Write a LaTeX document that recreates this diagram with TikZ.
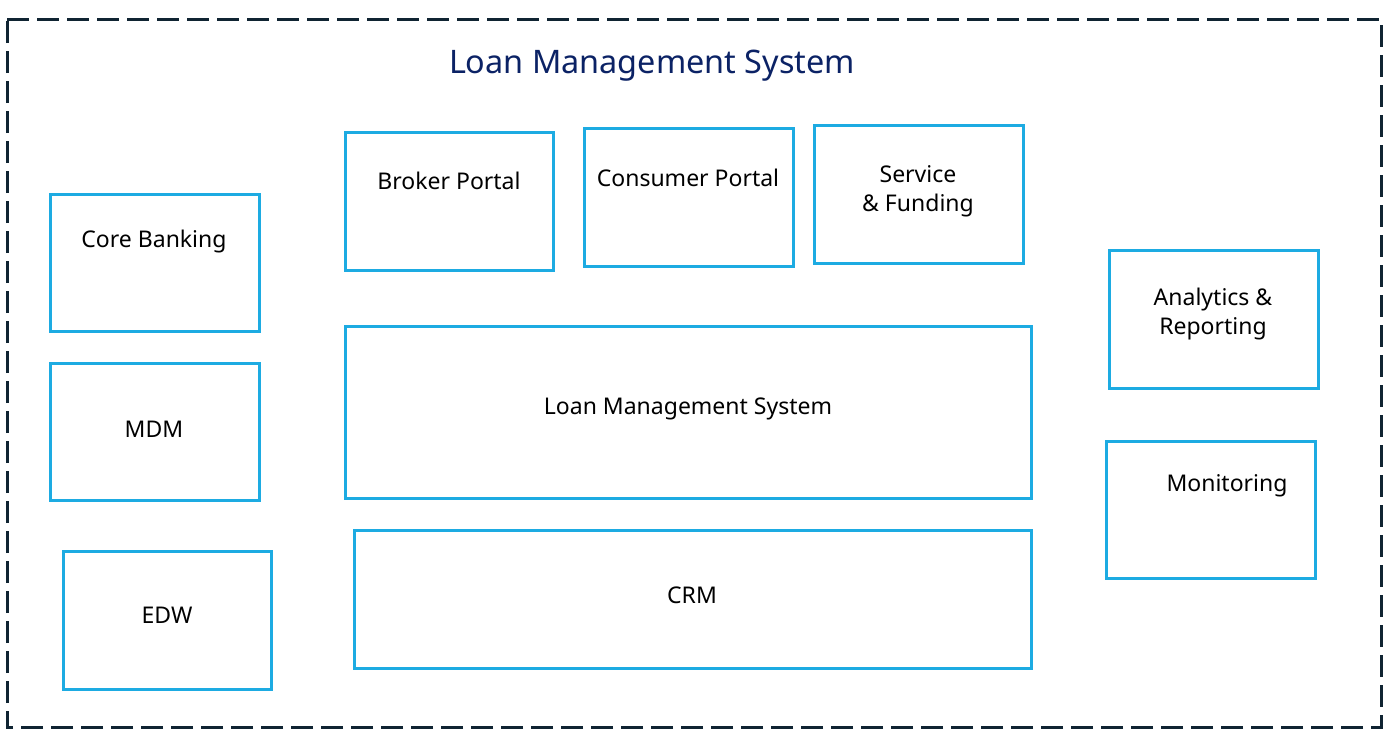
\documentclass[tikz,border=0pt]{standalone}
\usepackage{fontspec}
\setmainfont{Noto Sans}
\usetikzlibrary{positioning}

\definecolor{boxblue}{RGB}{29,171,226}
\definecolor{framenavy}{RGB}{16,36,50}
\definecolor{titlenavy}{RGB}{11,34,101}

\begin{document}
\begin{tikzpicture}[x=0.5pt,y=0.5pt,yscale=-1,xscale=1,
  sysbox/.style={draw=boxblue,line width=1.5pt},
  boxtext/.style={align=center,font=\fontsize{11.5}{14.5}\selectfont}]
\useasboundingbox (0,0) rectangle (1390,740);

%Shape: outer frame
\draw [framenavy,line width=1.5pt,dash pattern=on 11pt off 4pt] (7,19) -- (1381,19) -- (1381,727) -- (7,727) -- cycle ;

% Title
\node [text=titlenavy,font=\fontsize{16.2}{20}\selectfont] (title) at (652,66) {Loan Management System};

%Shape: left column
\draw [sysbox] (50,194) rectangle (259,331) ;
\draw [sysbox] (50,363) rectangle (259,500) ;
\draw [sysbox] (63,551) rectangle (271,689) ;

%Shape: portals
\draw [sysbox] (345,132) rectangle (553,270) ;
\draw [sysbox] (584,128) rectangle (793,266) ;
\draw [sysbox] (814,125) rectangle (1023,263) ;

%Shape: core systems
\draw [sysbox] (345,326) rectangle (1031,498) ;
\draw [sysbox] (354,530) rectangle (1031,668) ;

%Shape: right column
\draw [sysbox] (1109,250) rectangle (1318,388) ;
\draw [sysbox] (1106,441) rectangle (1315,578) ;

% Text Node
\node [boxtext] (core) at (154,242) {Core Banking};
% Text Node
\node [boxtext] (mdm) at (154,429) {MDM};
% Text Node
\node [boxtext] (edw) at (167,615) {EDW};
% Text Node
\node [boxtext] (broker) at (449,181) {Broker Portal};
% Text Node
\node [boxtext] (consumer) at (688,178) {Consumer Portal};
% Text Node
\node [boxtext] (service) at (918,191) {Service\\\& Funding};
% Text Node
\node [boxtext] (lms) at (688,409) {Loan Management System};
% Text Node
\node [boxtext] (crm) at (692,595) {CRM};
% Text Node
\node [boxtext] (analytics) at (1213,314) {Analytics \&\\Reporting};
% Text Node
\node [boxtext] (monitor) at (1227,486) {Monitoring};

\end{tikzpicture}
\end{document}
